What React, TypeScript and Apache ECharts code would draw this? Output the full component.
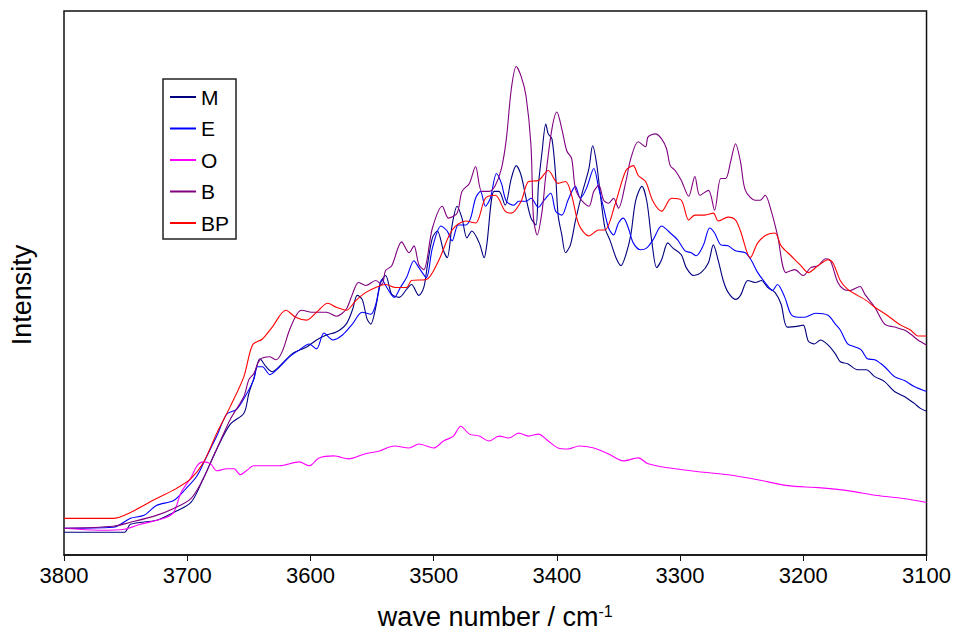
import React, { useEffect, useRef } from "react";
import * as echarts from "echarts";

const seriesNames = ["M", "E", "O", "B", "BP"];
const seriesColors = ["#000080", "#0000ff", "#ff00ff", "#800080", "#ff0000"];
const xTicks = [3800, 3700, 3600, 3500, 3400, 3300, 3200, 3100];

// [wave number (cm^-1), intensity (arb. units)]
const M = [[3800,23],[3751,23],[3746,31],[3725,35],[3711,43],[3697,53],[3687,77],[3676,107],[3665,132],[3654,143],[3650,163],[3646,178],[3641,198],[3636,190],[3631,185],[3623,193],[3615,203],[3603,210],[3595,217],[3587,222],[3579,225],[3571,233],[3566,247],[3562,262],[3558,258],[3554,238],[3551,233],[3547,250],[3543,275],[3539,282],[3534,263],[3528,260],[3522,268],[3518,273],[3512,262],[3508,270],[3505,293],[3501,320],[3497,327],[3492,307],[3489,300],[3485,333],[3481,352],[3477,340],[3473,320],[3469,327],[3463,315],[3459,300],[3457,312],[3451,367],[3447,367],[3442,353],[3437,380],[3433,393],[3429,383],[3425,360],[3421,340],[3417,333],[3415,373],[3412,407],[3409,435],[3407,425],[3404,420],[3401,383],[3399,343],[3396,323],[3393,305],[3389,313],[3385,337],[3380,363],[3374,390],[3371,413],[3368,397],[3365,367],[3361,330],[3357,318],[3352,300],[3348,292],[3344,303],[3340,323],[3336,358],[3331,372],[3327,357],[3323,317],[3319,290],[3315,298],[3310,315],[3306,310],[3299,303],[3295,290],[3289,282],[3283,285],[3277,295],[3273,313],[3269,297],[3265,277],[3261,265],[3255,258],[3251,262],[3245,277],[3239,275],[3234,277],[3229,270],[3223,265],[3218,253],[3213,230],[3204,231],[3200,232],[3196,216],[3191,213],[3186,217],[3180,212],[3174,203],[3170,195],[3164,193],[3156,187],[3149,187],[3142,180],[3134,175],[3126,165],[3118,160],[3110,153],[3105,148],[3100,145]];

const E = [[3800,27],[3760,28],[3746,37],[3735,40],[3725,50],[3711,55],[3701,67],[3692,80],[3684,100],[3676,120],[3668,142],[3660,147],[3653,160],[3646,177],[3643,190],[3639,190],[3633,182],[3625,190],[3617,200],[3609,207],[3601,213],[3595,208],[3589,224],[3582,217],[3574,222],[3566,233],[3558,245],[3551,243],[3547,253],[3542,278],[3538,270],[3532,260],[3527,270],[3522,280],[3516,297],[3512,290],[3506,280],[3501,310],[3494,332],[3489,327],[3485,317],[3480,333],[3474,333],[3470,340],[3466,360],[3462,367],[3458,352],[3454,360],[3449,385],[3445,375],[3441,357],[3435,353],[3431,357],[3425,357],[3421,360],[3415,351],[3411,357],[3405,365],[3401,347],[3396,343],[3391,358],[3385,372],[3381,360],[3376,370],[3370,390],[3366,370],[3362,350],[3358,330],[3354,323],[3350,335],[3346,340],[3342,330],[3338,315],[3332,308],[3327,310],[3322,318],[3315,332],[3308,325],[3302,318],[3296,307],[3291,305],[3287,302],[3281,313],[3276,330],[3272,325],[3267,313],[3261,312],[3255,307],[3247,305],[3242,297],[3237,285],[3231,275],[3225,267],[3221,273],[3215,260],[3210,243],[3204,240],[3199,240],[3190,244],[3180,242],[3174,233],[3170,227],[3164,213],[3158,210],[3153,207],[3148,198],[3142,197],[3134,190],[3126,180],[3118,176],[3110,170],[3100,165]];

const O = [[3800,27],[3771,25],[3751,26],[3738,31],[3719,37],[3711,43],[3705,63],[3697,78],[3692,90],[3687,94],[3681,92],[3676,85],[3668,87],[3662,87],[3657,81],[3652,85],[3646,90],[3641,90],[3625,90],[3609,94],[3601,90],[3593,98],[3581,100],[3569,97],[3556,102],[3544,105],[3532,110],[3520,108],[3512,112],[3500,108],[3492,115],[3484,120],[3478,130],[3471,122],[3463,120],[3455,115],[3447,120],[3439,118],[3431,123],[3423,120],[3415,122],[3407,115],[3399,108],[3391,107],[3382,110],[3370,108],[3358,102],[3346,95],[3334,98],[3326,92],[3310,88],[3285,84],[3261,81],[3237,76],[3213,70],[3188,68],[3164,65],[3140,60],[3119,57],[3100,53]];

const B = [[3800,27],[3760,29],[3746,33],[3725,40],[3711,47],[3697,57],[3687,77],[3676,107],[3665,137],[3654,160],[3650,177],[3646,183],[3641,197],[3633,200],[3628,197],[3623,205],[3617,227],[3611,243],[3607,247],[3599,245],[3587,245],[3579,241],[3571,248],[3566,263],[3561,275],[3555,272],[3547,277],[3542,273],[3539,287],[3534,292],[3526,316],[3520,305],[3516,312],[3512,293],[3508,288],[3501,330],[3493,352],[3488,340],[3481,345],[3477,367],[3471,375],[3466,392],[3461,367],[3455,367],[3450,373],[3445,390],[3441,420],[3437,470],[3433,493],[3429,483],[3425,463],[3421,413],[3419,340],[3416,323],[3412,347],[3409,383],[3404,430],[3400,447],[3396,430],[3392,408],[3388,400],[3385,370],[3380,358],[3374,352],[3370,367],[3366,373],[3362,358],[3358,355],[3354,360],[3350,350],[3344,377],[3340,400],[3334,417],[3328,412],[3326,422],[3320,425],[3315,420],[3311,410],[3308,393],[3304,388],[3299,378],[3293,362],[3288,382],[3284,363],[3277,368],[3272,348],[3267,380],[3263,380],[3259,397],[3255,415],[3251,397],[3247,368],[3239,358],[3235,358],[3231,363],[3226,347],[3221,323],[3214,285],[3207,288],[3200,282],[3194,290],[3188,292],[3182,299],[3178,297],[3172,275],[3167,268],[3162,267],[3154,271],[3150,263],[3142,250],[3134,233],[3126,230],[3118,227],[3113,223],[3107,217],[3100,212]];

const BP = [[3800,37],[3760,37],[3746,43],[3725,57],[3709,67],[3697,77],[3687,93],[3676,123],[3665,150],[3654,180],[3647,212],[3639,218],[3631,230],[3620,247],[3612,240],[3603,237],[3595,245],[3586,254],[3579,250],[3571,247],[3563,257],[3555,265],[3547,270],[3539,273],[3531,270],[3522,270],[3518,277],[3506,278],[3496,297],[3485,328],[3474,337],[3466,335],[3458,360],[3450,363],[3442,347],[3437,345],[3429,357],[3423,377],[3415,378],[3407,388],[3399,375],[3393,377],[3388,363],[3382,333],[3374,322],[3366,328],[3361,328],[3353,353],[3344,388],[3338,393],[3334,383],[3328,377],[3322,357],[3315,347],[3307,360],[3299,358],[3293,338],[3288,343],[3280,343],[3273,345],[3269,337],[3261,341],[3255,338],[3251,327],[3243,300],[3237,315],[3230,323],[3223,325],[3218,312],[3210,302],[3202,292],[3196,285],[3188,292],[3180,298],[3176,295],[3170,277],[3164,268],[3156,262],[3149,257],[3142,250],[3132,242],[3121,232],[3113,227],[3107,221],[3100,221]];

const seriesData = [M, E, O, B, BP];
const FONT = "'Liberation Sans', Arial, Helvetica, sans-serif";

export default function App() {
  const ref = useRef<HTMLDivElement>(null);
  useEffect(() => {
    if (!ref.current) return;
    const chart = echarts.init(ref.current, null, { renderer: "svg" });
    chart.setOption({
      animation: false,
      backgroundColor: "#ffffff",
      textStyle: { fontFamily: FONT },
      grid: {
        left: 64,
        top: 11,
        right: 25,
        bottom: 75,
        show: true,
        borderColor: "#111",
        borderWidth: 1.5,
        backgroundColor: "transparent",
      },
      graphic: [
        {
          type: "text",
          x: 22,
          y: 295,
          rotation: Math.PI / 2,
          style: {
            text: "Intensity",
            fontSize: 27,
            fontFamily: FONT,
            fill: "#000",
            align: "center",
            verticalAlign: "middle",
          },
        },
      ],
      legend: {
        orient: "vertical",
        left: 163,
        top: 79,
        data: seriesNames,
        icon: "rect",
        itemWidth: 26,
        itemHeight: 2,
        itemGap: 9.5,
        padding: [7, 7, 5, 7],
        borderColor: "#222",
        borderWidth: 1.5,
        backgroundColor: "#fff",
        textStyle: { fontSize: 21, color: "#000", fontFamily: FONT, lineHeight: 22 },
      },
      xAxis: {
        type: "value",
        min: 3100,
        max: 3800,
        interval: 100,
        inverse: true,
        name: "{a|wave number / cm}{b|-1}",
        nameLocation: "middle",
        nameGap: 48,
        nameTextStyle: {
          rich: {
            a: { fontSize: 27, color: "#000", fontFamily: FONT },
            b: { fontSize: 16, color: "#000", fontFamily: FONT, verticalAlign: "top" },
          },
        },
        axisLine: { show: true, lineStyle: { color: "#111", width: 1.5 } },
        axisTick: { show: true, inside: false, length: 6, lineStyle: { color: "#111", width: 1 } },
        axisLabel: {
          fontSize: 22,
          color: "#000",
          margin: 9,
          fontFamily: FONT,
          showMinLabel: true,
          showMaxLabel: true,
          formatter: (v: number) => (xTicks.includes(v) ? String(v) : ""),
        },
        splitLine: { show: false },
      },
      yAxis: {
        type: "value",
        min: 0,
        max: 549,
        axisLine: { show: false },
        axisTick: { show: false },
        axisLabel: { show: false },
        splitLine: { show: false },
      },
      series: seriesNames.map((name, i) => ({
        name,
        type: "line",
        data: seriesData[i],
        showSymbol: false,
        symbol: "none",
        smooth: 0.3,
        color: seriesColors[i],
        lineStyle: { color: seriesColors[i], width: 1.1 },
        z: 2,
      })),
    });
    return () => chart.dispose();
  }, []);
  return (
    <div
      ref={ref}
      style={{ position: "fixed", left: 0, top: 0, width: 954, height: 635, background: "#fff" }}
    />
  );
}
